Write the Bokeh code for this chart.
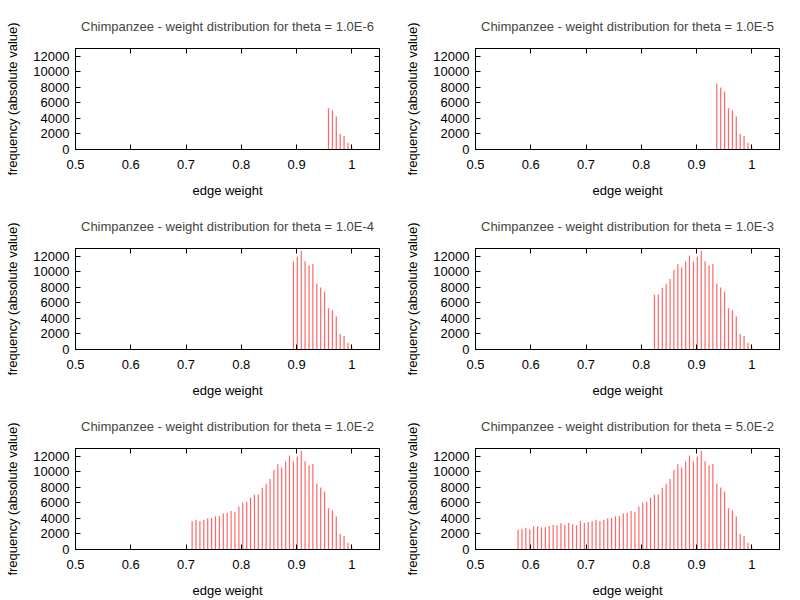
from bokeh.plotting import figure
from bokeh.layouts import gridplot
from bokeh.models import LinearAxis, FixedTicker, CustomJSTickFormatter, Range1d, ColumnDataSource
from bokeh.embed import file_html
from bokeh.resources import INLINE

# histogram bins (edge weight) and counts (frequency)
edge_weight = [0.5770, 0.5841, 0.5911, 0.5982, 0.6052, 0.6123, 0.6193, 0.6264, 0.6334, 0.6405,
               0.6475, 0.6546, 0.6616, 0.6687, 0.6757, 0.6828, 0.6898, 0.6969, 0.7039, 0.7110,
               0.7180, 0.7251, 0.7321, 0.7392, 0.7462, 0.7533, 0.7603, 0.7674, 0.7744, 0.7815,
               0.7885, 0.7956, 0.8026, 0.8097, 0.8167, 0.8238, 0.8308, 0.8379, 0.8449, 0.8520,
               0.8590, 0.8661, 0.8731, 0.8802, 0.8872, 0.8943, 0.9013, 0.9084, 0.9154, 0.9225,
               0.9295, 0.9366, 0.9436, 0.9507, 0.9577, 0.9648, 0.9718, 0.9789, 0.9859, 0.9930,
               1.0000]
frequency = [2549, 2678, 2808, 2592, 2981, 2981, 2851, 2851, 3024, 3153,
             3110, 3369, 3153, 3413, 3240, 3110, 3672, 3456, 3542, 3629,
             3844, 3672, 3801, 4017, 4060, 4276, 4320, 4622, 4708, 4968,
             4838, 5529, 6048, 6134, 6652, 7041, 7084, 7948, 8467, 9071,
             10238, 10972, 10540, 11317, 12095, 11317, 11965, 12700, 11361, 10799,
             11015, 8510, 7991, 7473, 5356, 5054, 4233, 1987, 1728, 864,
             216]
thetas = ["1.0E-6", "1.0E-5", "1.0E-4", "1.0E-3", "1.0E-2", "5.0E-2"]
first_bin = [54, 51, 45, 35, 19, 0]   # index of the lowest weight bin kept for each theta

x_ticks = [0.5, 0.6, 0.7, 0.8, 0.9, 1.0]
y_ticks = [0, 2000, 4000, 6000, 8000, 10000, 12000]

FONT = "Liberation Sans"
FS = "13px"


def style_axis(ax, show_labels=True):
    ax.axis_line_color = "black"
    ax.axis_line_width = 1
    ax.major_tick_in = 5
    ax.major_tick_out = 0
    ax.major_tick_line_color = "black"
    ax.major_tick_line_width = 1
    ax.minor_tick_line_color = None
    ax.major_label_text_font = FONT
    ax.major_label_text_font_size = FS
    if show_labels:
        ax.major_label_text_color = "black"
    else:
        ax.major_label_text_color = None
        ax.major_label_standoff = 0


def make(i):
    p = figure(width=400, height=200, output_backend="svg", toolbar_location=None,
               x_range=Range1d(0.5, 1.05), y_range=Range1d(0, 13000),
               min_border_left=75, min_border_right=21, min_border_top=48, min_border_bottom=50,
               x_axis_label="edge weight", y_axis_label="frequency (absolute value)",
               title="Chimpanzee - weight distribution for theta = " + thetas[i])
    p.background_fill_color = "white"
    p.border_fill_color = "white"
    p.outline_line_color = "black"
    p.grid.visible = False
    p.title.text_font = FONT
    p.title.text_font_size = FS
    p.title.text_font_style = "normal"
    p.title.align = "center"
    p.title.standoff = 29

    xt = FixedTicker(ticks=x_ticks)
    yt = FixedTicker(ticks=y_ticks)
    fmt = CustomJSTickFormatter(code="return String(Math.round(tick*10)/10);")
    p.xaxis.ticker = xt
    p.xaxis.formatter = fmt
    p.yaxis.ticker = yt
    for ax in p.xaxis + p.yaxis:
        style_axis(ax)
        ax.axis_label_text_font = FONT
        ax.axis_label_text_font_size = FS
        ax.axis_label_text_font_style = "normal"
        ax.axis_label_text_color = "black"
    p.xaxis.major_label_standoff = 10
    p.xaxis.axis_label_standoff = 11
    p.yaxis.major_label_standoff = 6
    p.yaxis.axis_label_standoff = 10

    top = LinearAxis(ticker=FixedTicker(ticks=x_ticks))
    style_axis(top, show_labels=False)
    p.add_layout(top, "above")
    right = LinearAxis(ticker=FixedTicker(ticks=y_ticks))
    style_axis(right, show_labels=False)
    p.add_layout(right, "right")

    s = first_bin[i]
    src = ColumnDataSource(dict(x=edge_weight[s:], y=frequency[s:]))
    p.segment(x0="x", y0=0, x1="x", y1="y", source=src,
              line_color="#ff0000", line_alpha=0.6, line_width=1.2)
    return p


plots = [make(i) for i in range(6)]
grid = gridplot(plots, ncols=2, toolbar_location=None)

open("out.html", "w").write(file_html(grid, INLINE))
